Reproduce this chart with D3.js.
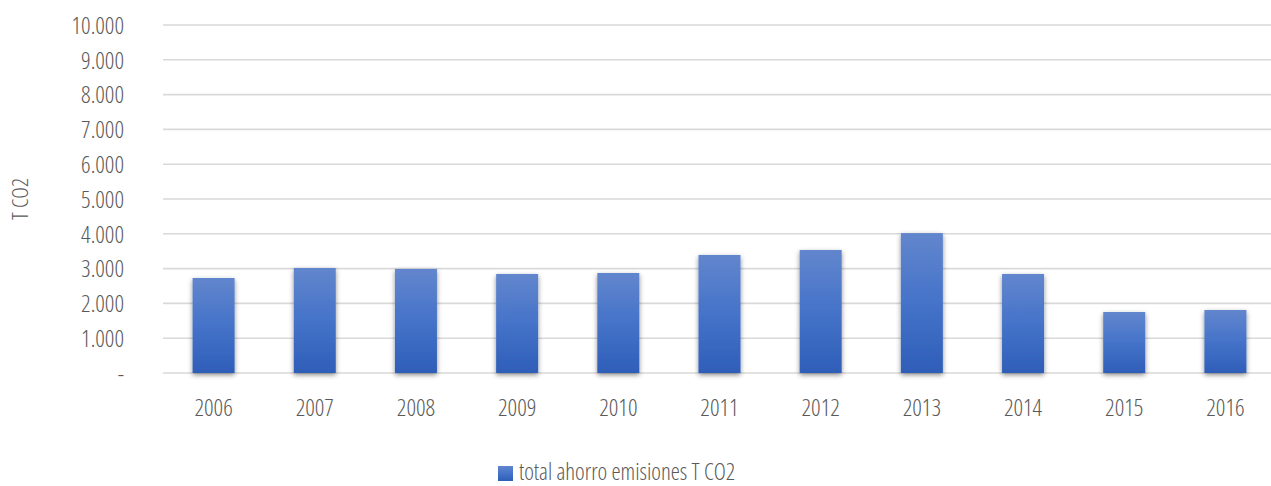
<!DOCTYPE html>
<html>
<head>
<meta charset="utf-8">
<script src="https://cdn.jsdelivr.net/npm/d3@7"></script>
<style>
  html, body { margin: 0; padding: 0; background: #fff; }
  svg text { font-family: "Open Sans", "Liberation Sans Narrow", sans-serif; font-stretch: condensed; font-weight: 300; fill: #595959; }
</style>
</head>
<body>
<svg id="chart" width="1271" height="486"></svg>
<script>
// Savings in CO2 emissions per year (tonnes)
const years = ["2006", "2007", "2008", "2009", "2010", "2011", "2012", "2013", "2014", "2015", "2016"];
const savings = [2730, 3017, 2990, 2845, 2874, 3391, 3534, 4020, 2845, 1753, 1810];
const yTicks = [0, 1000, 2000, 3000, 4000, 5000, 6000, 7000, 8000, 9000, 10000];
const seriesName = "total ahorro emisiones T CO2";
const axisTitle = "T CO2";

const svg = d3.select("#chart");

const x = d3.scaleBand().domain(years).range([163, 1276]).paddingInner(0.585).paddingOuter(0.2925);
const y = d3.scaleLinear().domain([0, 10000]).range([373, 25]);

const fmt = v => v === 0 ? "-" : d3.format(",")(v).replace(/,/g, ".");

const defs = svg.append("defs");
const grad = defs.append("linearGradient").attr("id", "barFill")
  .attr("x1", 0).attr("y1", 0).attr("x2", 0).attr("y2", 1);
grad.append("stop").attr("offset", "0%").attr("stop-color", "#6286cd");
grad.append("stop").attr("offset", "50%").attr("stop-color", "#4573c9");
grad.append("stop").attr("offset", "100%").attr("stop-color", "#2e5eb8");

const shadow = defs.append("filter").attr("id", "barShadow")
  .attr("x", "-30%").attr("y", "-10%").attr("width", "160%").attr("height", "125%");
shadow.append("feDropShadow").attr("dx", 0).attr("dy", 2).attr("stdDeviation", 2.6)
  .attr("flood-color", "#000").attr("flood-opacity", 0.45);

// Horizontal gridlines and value labels
const yAxis = d3.axisLeft(y).tickValues(yTicks).tickFormat(fmt).tickSize(0).tickPadding(0);
const gy = svg.append("g").attr("transform", "translate(124,0)").call(yAxis);
gy.select(".domain").remove();
gy.selectAll("text").attr("fill", "#595959").style("font-size", "23.5px").attr("dy", "0.35em").attr("x", 0);

svg.append("g").selectAll("line").data(yTicks).join("line")
  .attr("x1", 163).attr("x2", 1276)
  .attr("y1", d => y(d)).attr("y2", d => y(d))
  .attr("stroke", "#d9d9d9").attr("stroke-width", 1.6);

// Bars
svg.append("g").selectAll("rect").data(years).join("rect")
  .attr("x", d => x(d))
  .attr("width", x.bandwidth())
  .attr("y", (d, i) => y(savings[i]))
  .attr("height", (d, i) => y(0) - y(savings[i]))
  .attr("fill", "url(#barFill)")
  .attr("filter", "url(#barShadow)");

// Category labels
const xAxis = d3.axisBottom(x).tickSize(0).tickPadding(0);
const gx = svg.append("g").attr("transform", "translate(0,408)").call(xAxis);
gx.select(".domain").remove();
gx.selectAll("text").attr("fill", "#595959").style("font-size", "23.5px").attr("dy", "0.35em").attr("y", 0);

// Axis title
svg.append("text")
  .attr("transform", "translate(20,199) rotate(-90)")
  .attr("text-anchor", "middle")
  .attr("dy", "0.35em")
  .style("font-size", "22px")
  .text(axisTitle);

// Legend
const lg = svg.append("g").attr("transform", "translate(498,466)");
lg.append("rect").attr("width", 15).attr("height", 15).attr("fill", "url(#barFill)");
lg.append("text").attr("x", 21).attr("y", 14)
  .style("font-size", "23px").text(seriesName);
</script>
</body>
</html>
